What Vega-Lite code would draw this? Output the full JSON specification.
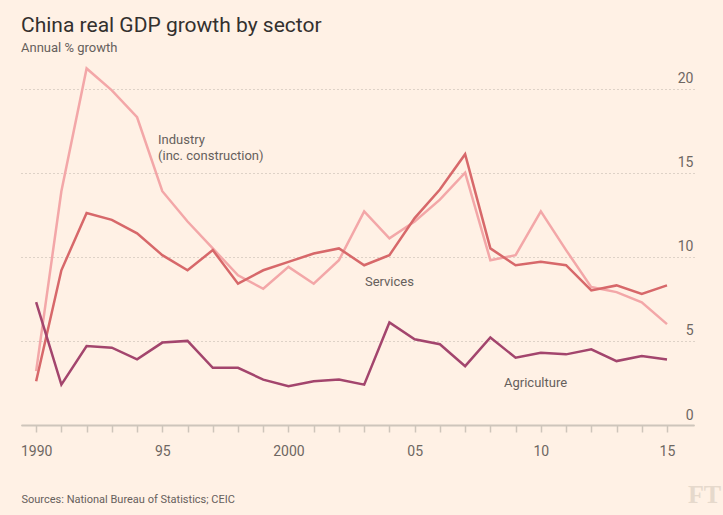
{
  "$schema": "https://vega.github.io/schema/vega-lite/v6.json",
  "width": 673,
  "height": 370,
  "autosize": {"type": "none"},
  "padding": {"left": 21, "top": 55, "right": 29, "bottom": 90},
  "background": "#fff1e5",
  "title": {
    "text": "China real GDP growth by sector",
    "subtitle": "Annual % growth",
    "anchor": "start",
    "frame": "group",
    "offset": 0,
    "font": "Roboto",
    "fontSize": 21,
    "fontWeight": "normal",
    "color": "#33302e",
    "subtitleFont": "Roboto",
    "subtitleFontSize": 13,
    "subtitleColor": "#66605c",
    "subtitlePadding": 6
  },
  "config": {"view": {"stroke": null}},
  "datasets": {
    "series": [
      {"year": 1990, "sector": "Industry", "value": 3.2},
      {"year": 1991, "sector": "Industry", "value": 13.9},
      {"year": 1992, "sector": "Industry", "value": 21.2},
      {"year": 1993, "sector": "Industry", "value": 19.9},
      {"year": 1994, "sector": "Industry", "value": 18.3},
      {"year": 1995, "sector": "Industry", "value": 13.9},
      {"year": 1996, "sector": "Industry", "value": 12.1},
      {"year": 1997, "sector": "Industry", "value": 10.5},
      {"year": 1998, "sector": "Industry", "value": 8.9},
      {"year": 1999, "sector": "Industry", "value": 8.1},
      {"year": 2000, "sector": "Industry", "value": 9.4},
      {"year": 2001, "sector": "Industry", "value": 8.4},
      {"year": 2002, "sector": "Industry", "value": 9.8},
      {"year": 2003, "sector": "Industry", "value": 12.7},
      {"year": 2004, "sector": "Industry", "value": 11.1},
      {"year": 2005, "sector": "Industry", "value": 12.1},
      {"year": 2006, "sector": "Industry", "value": 13.4},
      {"year": 2007, "sector": "Industry", "value": 15.0},
      {"year": 2008, "sector": "Industry", "value": 9.8},
      {"year": 2009, "sector": "Industry", "value": 10.1},
      {"year": 2010, "sector": "Industry", "value": 12.7},
      {"year": 2011, "sector": "Industry", "value": 10.4},
      {"year": 2012, "sector": "Industry", "value": 8.2},
      {"year": 2013, "sector": "Industry", "value": 7.9},
      {"year": 2014, "sector": "Industry", "value": 7.3},
      {"year": 2015, "sector": "Industry", "value": 6.0},
      {"year": 1990, "sector": "Services", "value": 2.6},
      {"year": 1991, "sector": "Services", "value": 9.2},
      {"year": 1992, "sector": "Services", "value": 12.6},
      {"year": 1993, "sector": "Services", "value": 12.2},
      {"year": 1994, "sector": "Services", "value": 11.4},
      {"year": 1995, "sector": "Services", "value": 10.1},
      {"year": 1996, "sector": "Services", "value": 9.2},
      {"year": 1997, "sector": "Services", "value": 10.4},
      {"year": 1998, "sector": "Services", "value": 8.4},
      {"year": 1999, "sector": "Services", "value": 9.2},
      {"year": 2000, "sector": "Services", "value": 9.7},
      {"year": 2001, "sector": "Services", "value": 10.2},
      {"year": 2002, "sector": "Services", "value": 10.5},
      {"year": 2003, "sector": "Services", "value": 9.5},
      {"year": 2004, "sector": "Services", "value": 10.1},
      {"year": 2005, "sector": "Services", "value": 12.3},
      {"year": 2006, "sector": "Services", "value": 14.0},
      {"year": 2007, "sector": "Services", "value": 16.1},
      {"year": 2008, "sector": "Services", "value": 10.5},
      {"year": 2009, "sector": "Services", "value": 9.5},
      {"year": 2010, "sector": "Services", "value": 9.7},
      {"year": 2011, "sector": "Services", "value": 9.5},
      {"year": 2012, "sector": "Services", "value": 8.0},
      {"year": 2013, "sector": "Services", "value": 8.3},
      {"year": 2014, "sector": "Services", "value": 7.8},
      {"year": 2015, "sector": "Services", "value": 8.3},
      {"year": 1990, "sector": "Agriculture", "value": 7.3},
      {"year": 1991, "sector": "Agriculture", "value": 2.4},
      {"year": 1992, "sector": "Agriculture", "value": 4.7},
      {"year": 1993, "sector": "Agriculture", "value": 4.6},
      {"year": 1994, "sector": "Agriculture", "value": 3.9},
      {"year": 1995, "sector": "Agriculture", "value": 4.9},
      {"year": 1996, "sector": "Agriculture", "value": 5.0},
      {"year": 1997, "sector": "Agriculture", "value": 3.4},
      {"year": 1998, "sector": "Agriculture", "value": 3.4},
      {"year": 1999, "sector": "Agriculture", "value": 2.7},
      {"year": 2000, "sector": "Agriculture", "value": 2.3},
      {"year": 2001, "sector": "Agriculture", "value": 2.6},
      {"year": 2002, "sector": "Agriculture", "value": 2.7},
      {"year": 2003, "sector": "Agriculture", "value": 2.4},
      {"year": 2004, "sector": "Agriculture", "value": 6.1},
      {"year": 2005, "sector": "Agriculture", "value": 5.1},
      {"year": 2006, "sector": "Agriculture", "value": 4.8},
      {"year": 2007, "sector": "Agriculture", "value": 3.5},
      {"year": 2008, "sector": "Agriculture", "value": 5.2},
      {"year": 2009, "sector": "Agriculture", "value": 4.0},
      {"year": 2010, "sector": "Agriculture", "value": 4.3},
      {"year": 2011, "sector": "Agriculture", "value": 4.2},
      {"year": 2012, "sector": "Agriculture", "value": 4.5},
      {"year": 2013, "sector": "Agriculture", "value": 3.8},
      {"year": 2014, "sector": "Agriculture", "value": 4.1},
      {"year": 2015, "sector": "Agriculture", "value": 3.9}
    ],
    "labels": [
      {"year": 1994.83, "value": 16.7, "label": "Industry"},
      {"year": 1994.83, "value": 15.75, "label": "(inc. construction)"},
      {"year": 2003.03, "value": 8.28, "label": "Services"},
      {"year": 2008.54, "value": 2.28, "label": "Agriculture"}
    ]
  },
  "encoding": {
    "x": {
      "field": "year",
      "type": "quantitative",
      "scale": {"domain": [1989.4, 2016.07], "nice": false, "zero": false},
      "axis": {
        "orient": "bottom",
        "values": [1990, 1991, 1992, 1993, 1994, 1995, 1996, 1997, 1998, 1999, 2000, 2001, 2002, 2003, 2004, 2005, 2006, 2007, 2008, 2009, 2010, 2011, 2012, 2013, 2014, 2015],
        "labelExpr": "datum.value % 5 != 0 ? '' : ((datum.value == 1990 || datum.value == 2000) ? toString(datum.value) : slice(toString(datum.value), 2))",
        "domain": true,
        "domainColor": "#cec5bb",
        "domainWidth": 2,
        "ticks": true,
        "tickColor": "#cec5bb",
        "tickSize": 7,
        "tickWidth": 1.5,
        "grid": false,
        "labelPadding": 12,
        "labelFont": "Roboto",
        "labelFontSize": 14,
        "labelColor": "#6e6762",
        "labelFlush": false,
        "labelOverlap": false,
        "title": "Sources: National Bureau of Statistics; CEIC",
        "titleAnchor": "start",
        "titleAlign": "left",
        "titleX": 0,
        "titleY": 77,
        "titleBaseline": "alphabetic",
        "titleFont": "Roboto",
        "titleFontSize": 11,
        "titleFontWeight": "normal",
        "titleColor": "#66605c"
      }
    },
    "y": {
      "field": "value",
      "type": "quantitative",
      "scale": {"domain": [0, 22], "nice": false},
      "axis": {
        "orient": "right",
        "values": [0, 5, 10, 15, 20],
        "domain": false,
        "ticks": false,
        "tickSize": 0,
        "labelAlign": "right",
        "labelPadding": -1,
        "labelBaseline": "bottom",
        "labelOffset": -3,
        "labelFont": "Roboto",
        "labelFontSize": 14,
        "labelColor": "#6e6762",
        "grid": true,
        "gridDash": [1, 3],
        "gridColor": "#bdb3a9",
        "gridWidth": 1,
        "title": "FT",
        "titleAngle": 0,
        "titleX": 10,
        "titleY": 447,
        "titleAlign": "center",
        "titleBaseline": "alphabetic",
        "titleFont": "Liberation Serif",
        "titleFontSize": 26,
        "titleFontWeight": "bold",
        "titleColor": "#e6d9cc"
      }
    }
  },
  "layer": [
    {
      "data": {"name": "series"},
      "mark": {"type": "line", "strokeWidth": 2.5, "strokeJoin": "miter"},
      "encoding": {
        "color": {
          "field": "sector",
          "type": "nominal",
          "scale": {"domain": ["Industry", "Services", "Agriculture"], "range": ["#f3a7a8", "#d7686a", "#a3456d"]},
          "legend": null
        },
        "order": {"field": "year"}
      }
    },
    {
      "data": {"name": "labels"},
      "mark": {"type": "text", "align": "left", "baseline": "alphabetic", "font": "Roboto", "fontSize": 13, "color": "#66605c"},
      "encoding": {"text": {"field": "label"}}
    }
  ]
}
